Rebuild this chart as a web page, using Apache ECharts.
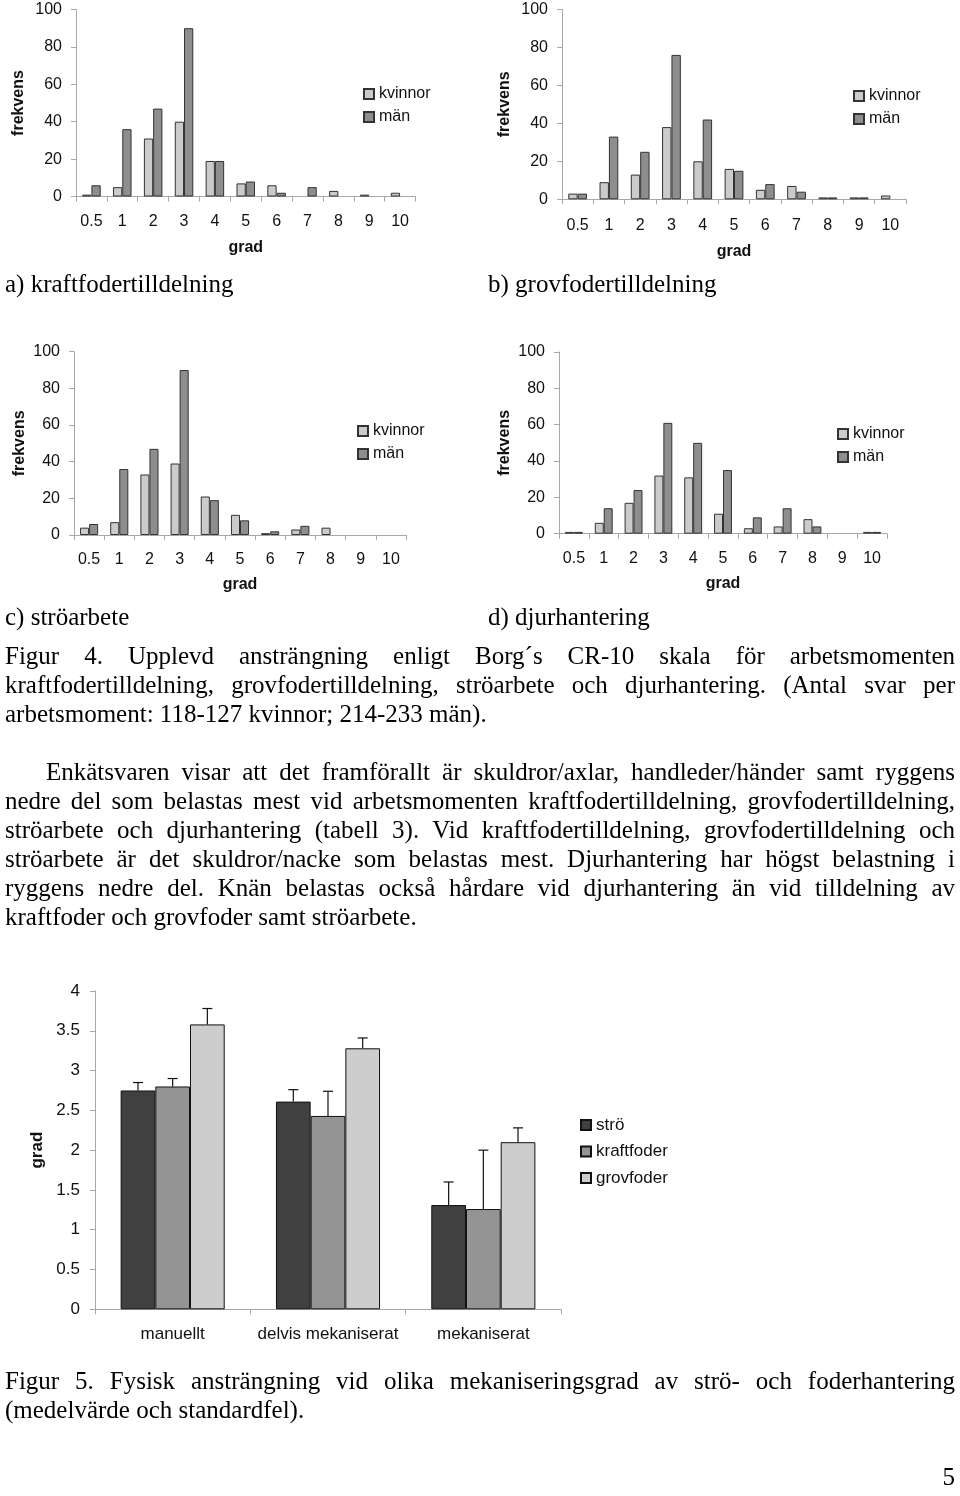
<!DOCTYPE html>
<html>
<head>
<meta charset="utf-8">
<script src="https://cdn.jsdelivr.net/npm/echarts@6/dist/echarts.min.js"></script>
<style>
html,body{margin:0;padding:0;background:#fff;}
#page{position:relative;width:960px;height:1496px;overflow:hidden;background:#fff;}
#chart{position:absolute;left:0;top:0;width:960px;height:1496px;}
.t{position:absolute;font-family:'Liberation Serif','Times New Roman',serif;font-size:25px;line-height:30px;height:30px;color:#000;white-space:nowrap;}
.j{text-align:justify;text-align-last:justify;white-space:normal;overflow:hidden;}
</style>
</head>
<body>
<div id="page">
<div id="chart"></div>
<div class="t" style="left:5px;top:269px;">a) kraftfodertilldelning</div>
<div class="t" style="left:488px;top:269px;">b) grovfodertilldelning</div>
<div class="t" style="left:5px;top:602px;">c) ströarbete</div>
<div class="t" style="left:488px;top:602px;">d) djurhantering</div>

<div class="t j" style="left:5px;width:950px;top:641px;">Figur 4. Upplevd ansträngning enligt Borg´s CR-10 skala för arbetsmomenten</div>
<div class="t j" style="left:5px;width:950px;top:670px;">kraftfodertilldelning, grovfodertilldelning, ströarbete och djurhantering. (Antal svar per</div>
<div class="t" style="left:5px;top:698.5px;">arbetsmoment: 118-127 kvinnor; 214-233 män).</div>

<div class="t j" style="left:46px;width:909px;top:757px;">Enkätsvaren visar att det framförallt är skuldror/axlar, handleder/händer samt ryggens</div>
<div class="t j" style="left:5px;width:950px;top:786px;">nedre del som belastas mest vid arbetsmomenten kraftfodertilldelning, grovfodertilldelning,</div>
<div class="t j" style="left:5px;width:950px;top:815px;">ströarbete och djurhantering (tabell 3). Vid kraftfodertilldelning, grovfodertilldelning och</div>
<div class="t j" style="left:5px;width:950px;top:844px;">ströarbete är det skuldror/nacke som belastas mest. Djurhantering har högst belastning i</div>
<div class="t j" style="left:5px;width:950px;top:872.5px;">ryggens nedre del. Knän belastas också hårdare vid djurhantering än vid tilldelning av</div>
<div class="t" style="left:5px;top:901.5px;">kraftfoder och grovfoder samt ströarbete.</div>

<div class="t j" style="left:5px;width:950px;top:1365.5px;">Figur 5. Fysisk ansträngning vid olika mekaniseringsgrad av strö- och foderhantering</div>
<div class="t" style="left:5px;top:1394.5px;">(medelvärde och standardfel).</div>
<div class="t" style="right:5px;top:1461.5px;">5</div>
</div>

<script>
// ---- data ----
var gradCategories = ['0.5','1','2','3','4','5','6','7','8','9','10'];
var kraftKvinnor = [1, 5, 31, 40, 19, 7, 6, 0, 3, 1, 2];
var kraftMan     = [6, 36, 47, 90, 19, 8, 2, 5, 0, 0, 0];
var grovKvinnor  = [3, 9, 13, 38, 20, 16, 5, 7, 1, 1, 2];
var grovMan      = [3, 33, 25, 76, 42, 15, 8, 4, 1, 1, 0];
var stroKvinnor  = [4, 7, 33, 39, 21, 11, 1, 3, 4, 0, 0];
var stroMan      = [6, 36, 47, 90, 19, 8, 2, 5, 0, 0, 0];
var djurKvinnor  = [1, 6, 17, 32, 31, 11, 3, 4, 8, 0, 1];
var djurMan      = [1, 14, 24, 61, 50, 35, 9, 14, 4, 0, 1];

var mechCategories = ['manuellt', 'delvis mekaniserat', 'mekaniserat'];
var stroMean  = [2.75, 2.61, 1.31];
var stroErr   = [0.10, 0.15, 0.29];
var kraftMean = [2.80, 2.43, 1.26];
var kraftErr  = [0.10, 0.31, 0.74];
var grovMean  = [3.58, 3.28, 2.10];
var grovErr   = [0.20, 0.13, 0.18];

// ---- styling ----
var FONT = "'Liberation Sans', Arial, sans-serif";
var AXC = '#a8a8a8';
var TXT = '#111';
var C_KV = '#cbcbcb', C_MAN = '#8e8e8e';
var C_STRO = '#404040', C_KRAFT = '#949494', C_GROV = '#cdcdcd';

function noZero(arr) { return arr.map(function (v) { return v === 0 ? null : v; }); }

var grids = [], xAxes = [], yAxes = [], series = [], legends = [];

var histos = [
  {kv: kraftKvinnor, man: kraftMan, grid: {left: 76, top: 9.5, width: 339.5, height: 187}, yGap: 49, xGap: 43, lMargin: 17, legend: {left: 363, top: 86}},
  {kv: grovKvinnor, man: grovMan, grid: {left: 562, top: 9.3, width: 344, height: 190}, yGap: 49, xGap: 44, lMargin: 18, legend: {left: 853, top: 88}},
  {kv: stroKvinnor, man: stroMan, grid: {left: 74, top: 351.7, width: 332, height: 183.3}, yGap: 46, xGap: 42, lMargin: 17, legend: {left: 357, top: 423}},
  {kv: djurKvinnor, man: djurMan, grid: {left: 559, top: 352, width: 328, height: 181.7}, yGap: 46, xGap: 42, lMargin: 17, legend: {left: 837, top: 426}}
];

histos.forEach(function (h, i) {
  grids.push(h.grid);
  xAxes.push({
    type: 'category', gridIndex: i, data: gradCategories,
    axisLine: {lineStyle: {color: AXC, width: 1}},
    axisTick: {show: true, length: 5, lineStyle: {color: AXC}},
    axisLabel: {interval: 0, margin: h.lMargin, color: TXT, fontSize: 16, fontFamily: FONT},
    name: 'grad', nameLocation: 'middle', nameGap: h.xGap,
    nameTextStyle: {fontWeight: 'bold', fontSize: 16, color: TXT, fontFamily: FONT}
  });
  yAxes.push({
    type: 'value', gridIndex: i, min: 0, max: 100, interval: 20,
    splitLine: {show: false},
    axisLine: {show: true, lineStyle: {color: AXC, width: 1}},
    axisTick: {show: true, length: 5, lineStyle: {color: AXC}},
    axisLabel: {margin: 14, color: TXT, fontSize: 16, fontFamily: FONT},
    name: 'frekvens', nameLocation: 'middle', nameRotate: 90, nameGap: h.yGap,
    nameTextStyle: {fontWeight: 'bold', fontSize: 16, color: TXT, fontFamily: FONT}
  });
  series.push({
    name: 'kvinnor', type: 'bar', xAxisIndex: i, yAxisIndex: i, data: noZero(h.kv),
    barGap: '0%', barCategoryGap: '40%',
    itemStyle: {color: C_KV, borderColor: '#333', borderWidth: 1}
  });
  series.push({
    name: 'män', type: 'bar', xAxisIndex: i, yAxisIndex: i, data: noZero(h.man),
    barGap: '0%', barCategoryGap: '40%',
    itemStyle: {color: C_MAN, borderColor: '#333', borderWidth: 1}
  });
  legends.push({
    left: h.legend.left, top: h.legend.top, orient: 'vertical', icon: 'rect', padding: 0,
    itemWidth: 10, itemHeight: 10, itemGap: 7, selectedMode: false,
    data: ['kvinnor', 'män'],
    textStyle: {fontSize: 16, color: TXT, fontFamily: FONT}
  });
});

// ---- figure 5 ----
var gi = 4;
grids.push({left: 95, top: 991, width: 466, height: 318.3});
xAxes.push({
  type: 'category', gridIndex: gi, data: mechCategories,
  axisLine: {lineStyle: {color: AXC, width: 1}},
  axisTick: {show: true, length: 5, lineStyle: {color: AXC}},
  axisLabel: {interval: 0, margin: 17, color: TXT, fontSize: 17, fontFamily: FONT}
});
yAxes.push({
  type: 'value', gridIndex: gi, min: 0, max: 4, interval: 0.5,
  splitLine: {show: false},
  axisLine: {show: true, lineStyle: {color: AXC, width: 1}},
  axisTick: {show: true, length: 5, lineStyle: {color: AXC}},
  axisLabel: {margin: 15, color: TXT, fontSize: 17, fontFamily: FONT},
  name: 'grad', nameLocation: 'middle', nameRotate: 90, nameGap: 49,
  nameTextStyle: {fontWeight: 'bold', fontSize: 17, color: TXT, fontFamily: FONT}
});

var fig5 = [
  {name: 'strö', mean: stroMean, err: stroErr, color: C_STRO},
  {name: 'kraftfoder', mean: kraftMean, err: kraftErr, color: C_KRAFT},
  {name: 'grovfoder', mean: grovMean, err: grovErr, color: C_GROV}
];
var GAP5 = 0.33;
fig5.forEach(function (s, k) {
  series.push({
    name: s.name, type: 'bar', xAxisIndex: gi, yAxisIndex: gi, data: s.mean,
    barGap: '0%', barCategoryGap: (GAP5 * 100) + '%',
    itemStyle: {color: s.color, borderColor: '#111', borderWidth: 1}
  });
});
fig5.forEach(function (s, k) {
  series.push({
    name: s.name + ' standardfel', type: 'custom', xAxisIndex: gi, yAxisIndex: gi, z: 5,
    data: s.mean.map(function (v, i) { return [i, v, s.err[i]]; }),
    encode: {x: 0, y: 1},
    renderItem: function (params, api) {
      var ci = api.value(0), v = api.value(1), e = api.value(2);
      var base = api.coord([ci, v]);
      var top = api.coord([ci, v + e]);
      var band = api.size([1, 0])[0];
      var bw = band * (1 - GAP5) / 3;
      var x = base[0] + (k - 1) * bw;
      var st = {stroke: '#111', lineWidth: 1.2};
      return {
        type: 'group',
        children: [
          {type: 'line', shape: {x1: x, y1: base[1], x2: x, y2: top[1]}, style: st},
          {type: 'line', shape: {x1: x - 5, y1: top[1], x2: x + 5, y2: top[1]}, style: st}
        ]
      };
    }
  });
});
legends.push({
  left: 580, top: 1116.5, orient: 'vertical', icon: 'rect', padding: 0,
  itemWidth: 10, itemHeight: 10, itemGap: 9.5, selectedMode: false,
  data: ['strö', 'kraftfoder', 'grovfoder'],
  textStyle: {fontSize: 17, color: TXT, fontFamily: FONT}
});

var chart = echarts.init(document.getElementById('chart'), null, {renderer: 'canvas'});
chart.setOption({
  animation: false,
  backgroundColor: 'transparent',
  textStyle: {fontFamily: FONT},
  grid: grids,
  xAxis: xAxes,
  yAxis: yAxes,
  legend: legends,
  series: series
});
</script>
</body>
</html>
